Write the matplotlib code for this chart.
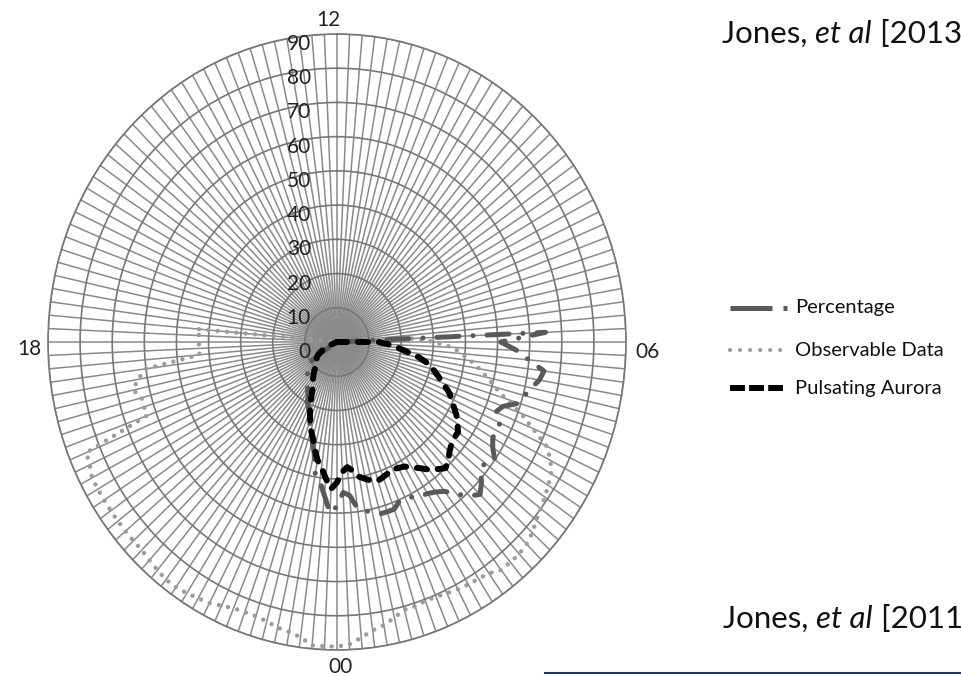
import numpy as np
import matplotlib
matplotlib.use("Agg")
import matplotlib.pyplot as plt
from matplotlib.lines import Line2D
from matplotlib.transforms import offset_copy

plt.rcParams['font.family'] = ['Lato', 'DejaVu Sans']

W, H = 962, 676

# 10-minute MLT bins, clockwise from 12 at the top
hours = (["12"] + [""] * 35 + ["06"] + [""] * 35 +
         ["00"] + [""] * 35 + ["18"] + [""] * 35)

percentage = [
    0, 0, 0, 0, 0, 0, 0, 0, 0, 0, 0, 0,
    0, 0, 0, 0, 0, 0, 0, 0, 0, 0, 0, 0,
    0, 0, 0, 0, 0, 0, 0, 0, 0, 0, 0, 65,
    51, 56, 60, 65, 64, 62, 60.5, 59.5, 55, 53.5, 56, 56,
    56, 57.5, 60, 58, 58.5, 61, 63, 61, 58, 55, 53.5, 52.5,
    52, 51, 50.5, 50.5, 52, 52, 52, 51, 50, 49, 45, 44,
    48, 50, 45, 41, 39, 33, 30, 27, 25, 23, 21, 20,
    18, 17, 16, 15, 14, 13.5, 13, 12, 11.5, 11, 10, 5,
    0, 0, 0, 0, 0, 0, 0, 0, 0, 0, 0, 0,
    0, 0, 0, 0, 0, 0, 0, 0, 0, 0, 0, 0,
    0, 0, 0, 0, 0, 0, 0, 0, 0, 0, 0, 0,
    0, 0, 0, 0, 0, 0, 0, 0, 0, 0, 0, 0,
]

observable = [
    0, 0, 0, 0, 0, 0, 0, 0, 0, 0, 0, 0,
    0, 0, 0, 0, 0, 0, 0, 0, 0, 0, 0, 0,
    0, 0, 0, 0, 0, 0, 0, 0, 0, 0, 0, 25,
    30, 36, 39, 42, 45, 48, 51, 55, 61, 66, 72, 75,
    77, 78, 79, 80, 81, 82.5, 83.5, 84, 84, 84, 82.5, 82,
    81.8, 81.5, 81, 80.6, 80.5, 81, 81, 82.5, 84, 85, 86.7, 88.5,
    89, 89, 89, 87, 86, 85.5, 84.5, 84, 84, 84.2, 85, 86,
    86.5, 87, 87.5, 87.5, 87, 86.5, 86, 86, 86, 86, 86, 86,
    86, 86, 85, 84.5, 63, 63, 63, 65, 63, 60, 43, 43,
    43, 43, 44, 0, 0, 0, 0, 0, 0, 0, 0, 0,
    0, 0, 0, 0, 0, 0, 0, 0, 0, 0, 0, 0,
    0, 0, 0, 0, 0, 0, 0, 0, 0, 0, 0, 0,
]

pulsating = [
    0, 0, 0, 0, 0, 0, 0, 0, 0, 0, 0, 0,
    0, 0, 0, 0, 0, 0, 0, 0, 0, 0, 0, 0,
    0, 0, 0, 0, 0, 0, 0, 0, 0, 0, 0, 0,
    13, 16, 19, 22, 26, 29, 31, 33, 35, 37.5, 39.5, 41,
    43, 44.5, 46, 46, 46.5, 47.5, 49, 50, 48.5, 47, 45, 43.5,
    42, 41.5, 41, 41.5, 42, 42.5, 42, 41, 40, 38, 36.7, 38,
    41, 43, 40, 37, 35, 32, 29, 27, 24.5, 22, 19.5, 17,
    15, 14, 13, 12, 11, 10, 9.5, 9, 8.5, 8, 7.5, 7,
    6, 5, 4, 3, 0, 0, 0, 0, 0, 0, 0, 0,
    0, 0, 0, 0, 0, 0, 0, 0, 0, 0, 0, 0,
    0, 0, 0, 0, 0, 0, 0, 0, 0, 0, 0, 0,
    0, 0, 0, 0, 0, 0, 0, 0, 0, 0, 0, 0,
]

r_ticks = [0, 10, 20, 30, 40, 50, 60, 70, 80, 90]
series_names = ["Percentage", "Observable Data", "Pulsating Aurora"]
citation_top = ("Jones, ", "et al", " [2013")
citation_bottom = ("Jones, ", "et al", " [2011")

n = len(hours)
theta = np.arange(n) * 2 * np.pi / n


def closed(vals):
    return np.append(theta, theta[0]), np.append(vals, vals[0])


fig = plt.figure(figsize=(W / 100, H / 100), dpi=100)
fig.patch.set_facecolor("white")

# radar area: centre (337, 342) px, semi-axes 289 x 308 px
cx, cy, rx, ry = 337, 342, 289, 308
ax = fig.add_axes([(cx - rx) / W, 1 - (cy + ry) / H, 2 * rx / W, 2 * ry / H],
                  projection="polar")
ax.set_aspect("auto")
ax.set_theta_zero_location("N")
ax.set_theta_direction(-1)
ax.set_ylim(0, 90)
ax.set_xticks(theta)
ax.set_xticklabels([""] * n)
ax.set_yticks(r_ticks)
ax.set_yticklabels([])
ax.tick_params(axis="x", grid_color="#8a8a8a", grid_linewidth=1.1, length=0)
ax.tick_params(axis="y", grid_color="#777777", grid_linewidth=1.2, length=0)
ax.grid(True)
ax.spines["polar"].set_color("#777777")
ax.spines["polar"].set_linewidth(1.2)

# hour labels just outside the outer ring
hour_offsets = {"12": (-9, 14), "06": (21, -10), "00": (4, -17), "18": (-19, -7)}
for t, lab in zip(theta, hours):
    if lab:
        dx, dy = hour_offsets[lab]
        tr = offset_copy(ax.transData, fig=fig, x=dx, y=dy, units="dots")
        ax.text(t, 90, lab, transform=tr, ha="center", va="center",
                fontsize=15, color="#222222", clip_on=False)

# radial value labels, left of the 12 spoke
lab_tr = offset_copy(ax.transData, fig=fig, x=-26, y=-10, units="dots")
for v in r_ticks:
    ax.text(0, v, str(v), transform=lab_tr, ha="right", va="center",
            fontsize=15, color="#222222")

styles = [
    dict(color="#595959", lw=3.6, dashes=(4.4, 2.8, 0.01, 2.8),
         dash_capstyle="round", zorder=2.1),
    dict(color="#9c9c9c", lw=3.2, dashes=(0.01, 2.1), dash_capstyle="round",
         zorder=2.0),
    dict(color="#000000", lw=4.3, dashes=(1.7, 1.8), dash_capstyle="round",
         zorder=2.2),
]
for vals, st in zip([percentage, observable, pulsating], styles):
    t, r = closed(vals)
    ax.plot(t, r, solid_joinstyle="round", **st)


def px(x, y):
    return x / W, 1 - y / H


# legend
leg_styles = [
    dict(color="#595959", lw=3.6, dashes=(8.4, 2.2, 0.8, 2.2),
         dash_capstyle="butt"),
    dict(color="#9c9c9c", lw=3.0, dashes=(0.01, 2.4), dash_capstyle="round"),
    dict(color="#000000", lw=4.3, dashes=(2.5, 0.7), dash_capstyle="butt"),
]
leg_rows = [308, 350, 388]
for name, st, yy in zip(series_names, leg_styles, leg_rows):
    x0, y0 = px(730, yy)
    x1, _ = px(787 if name == "Percentage" else 783, yy)
    fig.add_artist(Line2D([x0, x1], [y0, y0], transform=fig.transFigure, **st))
    fig.text(*px(795, yy), name, fontsize=14.5, va="center", ha="left",
             color="#111111")

renderer = fig.canvas.get_renderer()


def mixed(x, y, parts, size):
    for s, style in zip(parts, ["normal", "italic", "normal"]):
        t = fig.text(*px(x, y), s, fontsize=size, style=style,
                     va="center", ha="left", color="#111111")
        x += t.get_window_extent(renderer).width


mixed(722, 34, citation_top, 22.5)
mixed(723, 619, citation_bottom, 22.5)

fig.add_artist(Line2D([545 / W, 1], [1 - 673 / H] * 2,
                      transform=fig.transFigure, color="#1f3864", lw=1.5))

fig.savefig("out.png", dpi=100, facecolor="white")
